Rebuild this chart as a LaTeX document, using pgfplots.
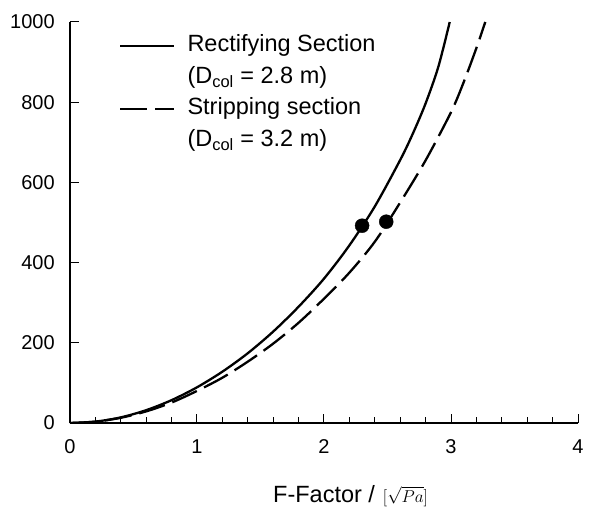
\documentclass[border=0pt]{standalone}
\usepackage{pgfplots}
\pgfplotsset{compat=1.18}
\usepackage{fontspec}
\setmainfont{Liberation Sans}
\begin{document}
\fontsize{20bp}{24bp}\selectfont
\begin{tikzpicture}
\begin{axis}[
  at={(0,0)}, anchor=south west,
  scale only axis, width=508bp, height=401bp,
  xmin=0, xmax=4, ymin=0, ymax=1000,
  axis lines=left,
  axis line style={-, line width=1.1bp, black},
  xtick={0,1,2,3,4}, minor x tick num=4,
  ytick={0,200,400,600,800,1000},
  tick align=inside,
  major tick length=9bp, minor tick length=6bp,
  tick style={line width=1bp, black},
  /pgf/number format/assume math mode=true,
  /pgf/number format/1000 sep={},
  ticklabel style={font=\fontsize{20bp}{24bp}\selectfont},
  xticklabel style={yshift=-9.5bp},
  yticklabel style={xshift=-8.5bp},
  xlabel={\fontsize{23.5bp}{26bp}\selectfont F-Factor /\hspace{8bp}{\fontsize{17bp}{19bp}\selectfont$[\sqrt{Pa}]$}},
  xlabel style={at={(axis cs:1.598,0)}, anchor=base west, inner sep=0pt, yshift=-79bp},
  legend cell align=left,
  legend image code/.code={\draw[#1] (0bp,0bp) -- (54bp,0bp);},
  legend style={at={(axis description cs:0.0965,0.9676)}, anchor=north west,
    draw=none, fill=none, inner sep=0pt, row sep=9.9bp, column sep=12bp,
    font=\fontsize{23.5bp}{26bp}\selectfont,
    nodes={inner sep=0pt, text height=16.8bp, text depth=4.8bp}},
]
\addplot[black, line width=2.3bp, smooth] coordinates {
(0,0) (0.2,3.5) (0.4,14) (0.6,32) (0.8,57) (1.0,89) (1.2,128) (1.4,174)
(1.6,228) (1.8,290) (2.0,360) (2.2,443) (2.4,540) (2.6,656) (2.7,722)
(2.8,797) (2.9,888) (2.99,1000)};
\addlegendentry{Rectifying Section}
\addlegendimage{empty legend}
\addlegendentry{(D\textsubscript{col} = 2.8 m)}
\addplot[black, line width=2.3bp, smooth, dash pattern=on 27bp off 8bp] coordinates {
(0,0) (0.2,3.3) (0.4,13) (0.6,29) (0.8,51) (1.0,80) (1.2,113) (1.4,153)
(1.6,198) (1.8,250) (2.0,310) (2.2,375) (2.4,452) (2.6,550) (2.8,655)
(3.0,775) (3.1,850) (3.2,935) (3.27,1000)};
\addlegendentry{Stripping section}
\addlegendimage{empty legend}
\addlegendentry{(D\textsubscript{col} = 3.2 m)}
\addplot[only marks, mark=*, mark size=7bp, black, forget plot] coordinates {
(2.30,492) (2.49,502)};
\end{axis}
\path[use as bounding box] (-70bp,-84bp) rectangle (525bp,423bp);
\end{tikzpicture}
\end{document}
